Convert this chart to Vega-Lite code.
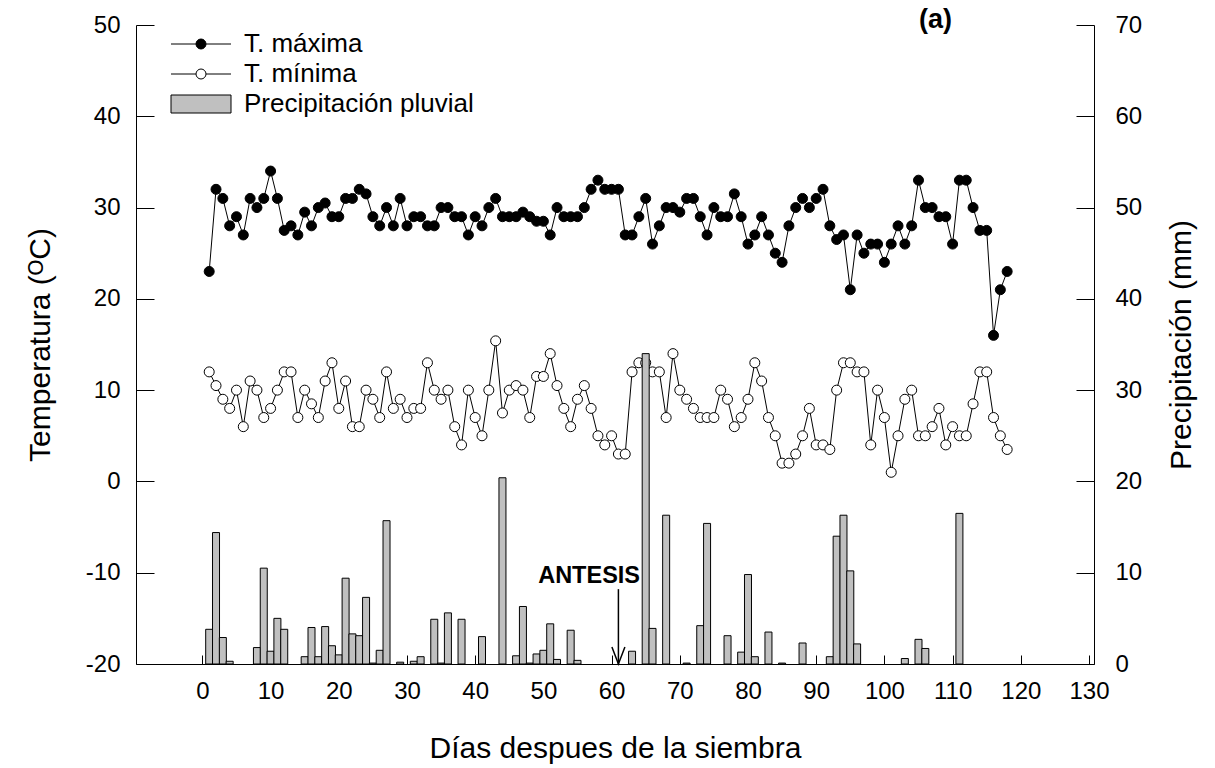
{
  "$schema": "https://vega.github.io/schema/vega-lite/v6.json",
  "width": 958,
  "height": 639,
  "autosize": "none",
  "padding": {"left": 136, "top": 25, "right": 121, "bottom": 104},
  "config": {
    "font": "Liberation Sans",
    "view": {"stroke": null},
    "axis": {
      "domainColor": "black", "tickColor": "black", "labelColor": "black", "titleColor": "black",
      "grid": false, "labelFont": "Liberation Sans", "titleFont": "Liberation Sans",
      "labelFontSize": 24, "titleFontSize": 30, "titleFontWeight": "normal",
      "domainWidth": 1, "tickWidth": 1
    },
    "legend": {
      "title": null, "orient": "none", "legendX": 52, "legendY": 6,
      "labelFontSize": 26, "labelFont": "Liberation Sans", "labelColor": "black",
      "symbolSize": 100, "labelOffset": 30, "symbolOffset": 0, "rowPadding": 4, "padding": 0,
      "labelLimit": 400, "symbolOpacity": 1,
      "symbolStrokeColor": "black", "symbolStrokeWidth": 1
    }
  },
  "datasets": {
    "temp": [
      {"dia":1,"tmax":23,"tmin":12},{"dia":2,"tmax":32,"tmin":10.5},{"dia":3,"tmax":31,"tmin":9},{"dia":4,"tmax":28,"tmin":8},{"dia":5,"tmax":29,"tmin":10},
      {"dia":6,"tmax":27,"tmin":6},{"dia":7,"tmax":31,"tmin":11},{"dia":8,"tmax":30,"tmin":10},{"dia":9,"tmax":31,"tmin":7},{"dia":10,"tmax":34,"tmin":8},
      {"dia":11,"tmax":31,"tmin":10},{"dia":12,"tmax":27.5,"tmin":12},{"dia":13,"tmax":28,"tmin":12},{"dia":14,"tmax":27,"tmin":7},{"dia":15,"tmax":29.5,"tmin":10},
      {"dia":16,"tmax":28,"tmin":8.5},{"dia":17,"tmax":30,"tmin":7},{"dia":18,"tmax":30.5,"tmin":11},{"dia":19,"tmax":29,"tmin":13},{"dia":20,"tmax":29,"tmin":8},
      {"dia":21,"tmax":31,"tmin":11},{"dia":22,"tmax":31,"tmin":6},{"dia":23,"tmax":32,"tmin":6},{"dia":24,"tmax":31.5,"tmin":10},{"dia":25,"tmax":29,"tmin":9},
      {"dia":26,"tmax":28,"tmin":7},{"dia":27,"tmax":30,"tmin":12},{"dia":28,"tmax":28,"tmin":8},{"dia":29,"tmax":31,"tmin":9},{"dia":30,"tmax":28,"tmin":7},
      {"dia":31,"tmax":29,"tmin":8},{"dia":32,"tmax":29,"tmin":8},{"dia":33,"tmax":28,"tmin":13},{"dia":34,"tmax":28,"tmin":10},{"dia":35,"tmax":30,"tmin":9},
      {"dia":36,"tmax":30,"tmin":10},{"dia":37,"tmax":29,"tmin":6},{"dia":38,"tmax":29,"tmin":4},{"dia":39,"tmax":27,"tmin":10},{"dia":40,"tmax":29,"tmin":7},
      {"dia":41,"tmax":28,"tmin":5},{"dia":42,"tmax":30,"tmin":10},{"dia":43,"tmax":31,"tmin":15.4},{"dia":44,"tmax":29,"tmin":7.5},{"dia":45,"tmax":29,"tmin":10},
      {"dia":46,"tmax":29,"tmin":10.5},{"dia":47,"tmax":29.5,"tmin":10},{"dia":48,"tmax":29,"tmin":7},{"dia":49,"tmax":28.5,"tmin":11.5},{"dia":50,"tmax":28.5,"tmin":11.5},
      {"dia":51,"tmax":27,"tmin":14},{"dia":52,"tmax":30,"tmin":10.5},{"dia":53,"tmax":29,"tmin":8},{"dia":54,"tmax":29,"tmin":6},{"dia":55,"tmax":29,"tmin":9},
      {"dia":56,"tmax":30,"tmin":10.5},{"dia":57,"tmax":32,"tmin":8},{"dia":58,"tmax":33,"tmin":5},{"dia":59,"tmax":32,"tmin":4},{"dia":60,"tmax":32,"tmin":5},
      {"dia":61,"tmax":32,"tmin":3},{"dia":62,"tmax":27,"tmin":3},{"dia":63,"tmax":27,"tmin":12},{"dia":64,"tmax":29,"tmin":13},{"dia":65,"tmax":31,"tmin":13},
      {"dia":66,"tmax":26,"tmin":12},{"dia":67,"tmax":28,"tmin":12},{"dia":68,"tmax":30,"tmin":7},{"dia":69,"tmax":30,"tmin":14},{"dia":70,"tmax":29.5,"tmin":10},
      {"dia":71,"tmax":31,"tmin":9},{"dia":72,"tmax":31,"tmin":8},{"dia":73,"tmax":29,"tmin":7},{"dia":74,"tmax":27,"tmin":7},{"dia":75,"tmax":30,"tmin":7},
      {"dia":76,"tmax":29,"tmin":10},{"dia":77,"tmax":29,"tmin":9},{"dia":78,"tmax":31.5,"tmin":6},{"dia":79,"tmax":29,"tmin":7},{"dia":80,"tmax":26,"tmin":9},
      {"dia":81,"tmax":27,"tmin":13},{"dia":82,"tmax":29,"tmin":11},{"dia":83,"tmax":27,"tmin":7},{"dia":84,"tmax":25,"tmin":5},{"dia":85,"tmax":24,"tmin":2},
      {"dia":86,"tmax":28,"tmin":2},{"dia":87,"tmax":30,"tmin":3},{"dia":88,"tmax":31,"tmin":5},{"dia":89,"tmax":30,"tmin":8},{"dia":90,"tmax":31,"tmin":4},
      {"dia":91,"tmax":32,"tmin":4},{"dia":92,"tmax":28,"tmin":3.5},{"dia":93,"tmax":26.5,"tmin":10},{"dia":94,"tmax":27,"tmin":13},{"dia":95,"tmax":21,"tmin":13},
      {"dia":96,"tmax":27,"tmin":12},{"dia":97,"tmax":25,"tmin":12},{"dia":98,"tmax":26,"tmin":4},{"dia":99,"tmax":26,"tmin":10},{"dia":100,"tmax":24,"tmin":7},
      {"dia":101,"tmax":26,"tmin":1},{"dia":102,"tmax":28,"tmin":5},{"dia":103,"tmax":26,"tmin":9},{"dia":104,"tmax":28,"tmin":10},{"dia":105,"tmax":33,"tmin":5},
      {"dia":106,"tmax":30,"tmin":5},{"dia":107,"tmax":30,"tmin":6},{"dia":108,"tmax":29,"tmin":8},{"dia":109,"tmax":29,"tmin":4},{"dia":110,"tmax":26,"tmin":6},
      {"dia":111,"tmax":33,"tmin":5},{"dia":112,"tmax":33,"tmin":5},{"dia":113,"tmax":30,"tmin":8.5},{"dia":114,"tmax":27.5,"tmin":12},{"dia":115,"tmax":27.5,"tmin":12},
      {"dia":116,"tmax":16,"tmin":7},{"dia":117,"tmax":21,"tmin":5},{"dia":118,"tmax":23,"tmin":3.5}
    ],
    "prec": [
      {"dia":1,"mm":3.8},{"dia":2,"mm":14.4},{"dia":3,"mm":2.9},{"dia":4,"mm":0.3},{"dia":8,"mm":1.8},{"dia":9,"mm":10.5},{"dia":10,"mm":1.4},{"dia":11,"mm":5.0},{"dia":12,"mm":3.8},
      {"dia":15,"mm":0.8},{"dia":16,"mm":4.0},{"dia":17,"mm":0.8},{"dia":18,"mm":4.1},{"dia":19,"mm":2.0},{"dia":20,"mm":1.0},{"dia":21,"mm":9.4},{"dia":22,"mm":3.3},{"dia":23,"mm":3.1},
      {"dia":24,"mm":7.3},{"dia":25,"mm":0.1},{"dia":26,"mm":1.5},{"dia":27,"mm":15.7},{"dia":29,"mm":0.2},{"dia":31,"mm":0.3},{"dia":32,"mm":0.8},{"dia":34,"mm":4.9},{"dia":35,"mm":0.1},
      {"dia":36,"mm":5.6},{"dia":38,"mm":4.9},{"dia":41,"mm":3.0},{"dia":44,"mm":20.4},{"dia":46,"mm":0.9},{"dia":47,"mm":6.3},{"dia":48,"mm":0.1},{"dia":49,"mm":1.1},{"dia":50,"mm":1.5},
      {"dia":51,"mm":4.4},{"dia":52,"mm":0.5},{"dia":54,"mm":3.7},{"dia":55,"mm":0.4},{"dia":63,"mm":1.4},{"dia":65,"mm":34.0},{"dia":66,"mm":3.9},{"dia":68,"mm":16.3},{"dia":71,"mm":0.1},
      {"dia":73,"mm":4.2},{"dia":74,"mm":15.4},{"dia":77,"mm":3.1},{"dia":79,"mm":1.3},{"dia":80,"mm":9.8},{"dia":81,"mm":0.8},{"dia":83,"mm":3.5},{"dia":85,"mm":0.1},{"dia":88,"mm":2.3},
      {"dia":92,"mm":0.8},{"dia":93,"mm":14.0},{"dia":94,"mm":16.3},{"dia":95,"mm":10.2},{"dia":96,"mm":2.2},{"dia":103,"mm":0.6},{"dia":105,"mm":2.7},{"dia":106,"mm":1.7},{"dia":111,"mm":16.5}
    ],
    "flecha": [{"dia":61,"t1":-11.8,"t2":-20}],
    "antesis": [{"dia":56.7,"t":-10.4,"texto":"ANTESIS"}],
    "panel": [{"dia":107.5,"t":50.5,"texto":"(a)"}]
  },
  "layer": [
    {
      "layer": [
        {
          "data": {"name": "temp"},
          "transform": [{"fold": ["tmax", "tmin"], "as": ["serie", "t"]}],
          "mark": {"type": "line", "color": "black", "strokeWidth": 1},
          "encoding": {
            "x": {
              "field": "dia", "type": "quantitative",
              "scale": {"domain": [-9, 130], "nice": false, "zero": false},
              "axis": {
                "values": [0,10,20,30,40,50,60,70,80,90,100,110,120,130],
                "tickSize": -9, "labelPadding": 24, "labelFlush": false,
                "title": "Días despues de la siembra", "titlePadding": 30
              }
            },
            "y": {
              "field": "t", "type": "quantitative",
              "scale": {"domain": [-20, 50], "nice": false, "zero": false},
              "axis": {
                "orient": "left",
                "values": [-20,-10,0,10,20,30,40,50],
                "labelExpr": "'' + datum.value",
                "tickSize": -18, "labelPadding": 34,
                "title": "Temperatura (ᴼC)", "titlePadding": 30
              }
            },
            "detail": {"field": "serie"}
          }
        },
        {
          "data": {"name": "temp"},
          "transform": [{"fold": ["tmax", "tmin"], "as": ["serie", "t"]}],
          "mark": {"type": "point", "filled": true, "size": 1, "strokeWidth": 1, "opacity": 0},
          "encoding": {
            "x": {"field": "dia", "type": "quantitative"},
            "y": {"field": "t", "type": "quantitative"},
            "fill": {
              "field": "serie", "type": "nominal",
              "scale": {"domain": ["tmax", "tmin", "pp"], "range": ["black", "white", "#c0c0c0"]},
              "legend": {
                "labelExpr": "datum.value == 'tmax' ? 'T. máxima' : datum.value == 'tmin' ? 'T. mínima' : 'Precipitación pluvial'"
              }
            },
            "stroke": {
              "field": "serie", "type": "nominal",
              "scale": {"domain": ["tmax", "tmin", "pp"], "range": ["black", "black", "black"]},
              "legend": {
                "labelExpr": "datum.value == 'tmax' ? 'T. máxima' : datum.value == 'tmin' ? 'T. mínima' : 'Precipitación pluvial'"
              }
            },
            "shape": {
              "field": "serie", "type": "nominal",
              "scale": {
                "domain": ["tmax", "tmin", "pp"],
                "range": ["M-6,0H-1M1,0H6M1,0A1,1,0,1,1,-1,0A1,1,0,1,1,1,0Z", "M-6,0H-1M1,0H6M1,0A1,1,0,1,1,-1,0A1,1,0,1,1,1,0Z", "M-6,-1.8H6V1.8H-6Z"]
              },
              "legend": {
                "labelExpr": "datum.value == 'tmax' ? 'T. máxima' : datum.value == 'tmin' ? 'T. mínima' : 'Precipitación pluvial'"
              }
            }
          }
        },
        {
          "data": {"name": "temp"},
          "transform": [{"fold": ["tmax", "tmin"], "as": ["serie", "t"]}],
          "mark": {"type": "point", "filled": true, "size": 100, "stroke": "black", "strokeWidth": 1, "opacity": 1},
          "encoding": {
            "x": {"field": "dia", "type": "quantitative"},
            "y": {"field": "t", "type": "quantitative"},
            "fill": {"field": "serie", "type": "nominal"}
          }
        },
        {
          "data": {"name": "flecha"},
          "mark": {"type": "rule", "color": "black", "strokeWidth": 1.5},
          "encoding": {
            "x": {"field": "dia", "type": "quantitative"},
            "y": {"field": "t1", "type": "quantitative"},
            "y2": {"field": "t2"}
          }
        },
        {
          "data": {"name": "flecha"},
          "mark": {"type": "point", "shape": "M-1.3,-3.4L0,0L1.3,-3.4", "size": 100, "filled": false, "stroke": "black", "strokeWidth": 1.5, "opacity": 1},
          "encoding": {
            "x": {"field": "dia", "type": "quantitative"},
            "y": {"field": "t2", "type": "quantitative"}
          }
        },
        {
          "data": {"name": "antesis"},
          "mark": {"type": "text", "font": "Liberation Sans", "fontWeight": "bold", "fontSize": 23.5, "color": "black", "align": "center", "baseline": "middle"},
          "encoding": {
            "x": {"field": "dia", "type": "quantitative"},
            "y": {"field": "t", "type": "quantitative"},
            "text": {"field": "texto"}
          }
        },
        {
          "data": {"name": "panel"},
          "mark": {"type": "text", "font": "Liberation Sans", "fontWeight": "bold", "fontSize": 27, "color": "black", "align": "center", "baseline": "middle"},
          "encoding": {
            "x": {"field": "dia", "type": "quantitative"},
            "y": {"field": "t", "type": "quantitative"},
            "text": {"field": "texto"}
          }
        }
      ]
    },
    {
      "data": {"name": "prec"},
      "mark": {"type": "bar", "size": 7, "stroke": "black", "strokeWidth": 1, "opacity": 1},
      "encoding": {
        "x": {"field": "dia", "type": "quantitative"},
        "y": {
          "field": "mm", "type": "quantitative",
          "scale": {"domain": [0, 70], "nice": false, "zero": true},
          "axis": {
            "orient": "right",
            "values": [0,10,20,30,40,50,60,70],
            "tickSize": -18, "labelPadding": 39,
            "title": "Precipitación (mm)", "titleAngle": 270, "titlePadding": 55
          }
        },
        "fill": {"datum": "pp", "type": "nominal"}
      }
    }
  ],
  "resolve": {"scale": {"y": "independent"}}
}
